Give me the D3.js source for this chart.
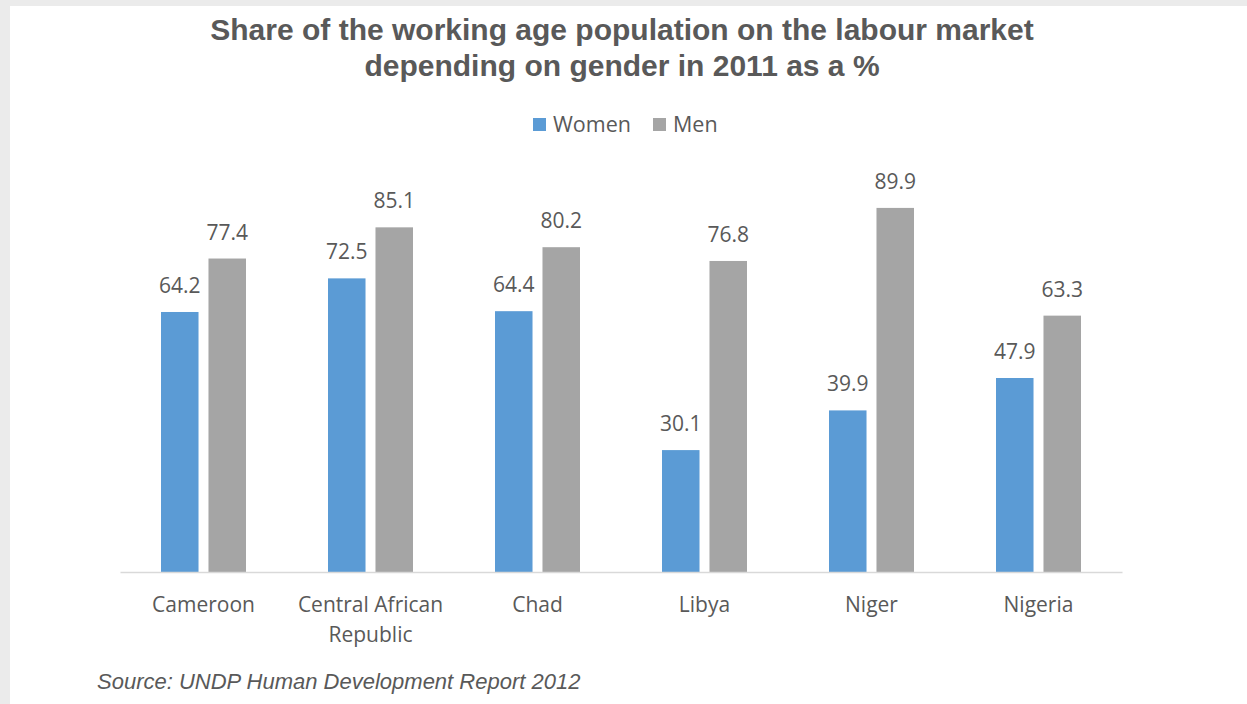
<!DOCTYPE html>
<html><head><meta charset="utf-8">
<script src="https://cdn.jsdelivr.net/npm/d3@7"></script>
<style>
html,body{margin:0;padding:0;background:#ebebeb;}
svg{display:block;}
</style></head>
<body>
<svg id="chart" width="1247" height="704"></svg>
<script>
const categories = ["Cameroon", "Central African Republic", "Chad", "Libya", "Niger", "Nigeria"];
const categoryLines = [["Cameroon"], ["Central African", "Republic"], ["Chad"], ["Libya"], ["Niger"], ["Nigeria"]];
const seriesNames = ["Women", "Men"];
const women = [64.2, 72.5, 64.4, 30.1, 39.9, 47.9];
const men = [77.4, 85.1, 80.2, 76.8, 89.9, 63.3];
const colors = ["#5b9bd5", "#a5a5a5"];
const titleLines = ["Share of the working age population on the labour market", "depending on gender in 2011 as a %"];
const sourceText = "Source: UNDP Human Development Report 2012";

const svg = d3.select("#chart");
svg.append("rect").attr("x", 10).attr("y", 6).attr("width", 1237).attr("height", 698).attr("fill", "#fff");

const txt = "#595959";
const labelFont = "'Open Sans', 'Noto Sans', sans-serif";

svg.append("g").selectAll("text").data(titleLines).join("text")
  .attr("x", 622).attr("y", (d, i) => 40 + i * 36)
  .attr("text-anchor", "middle")
  .attr("font-family", "'Liberation Sans', Arial, sans-serif")
  .attr("font-weight", "bold").attr("font-size", 30).attr("fill", txt)
  .text(d => d);

const x0 = d3.scaleBand().domain(categories).range([120, 1122]);
const x1 = d3.scaleBand().domain(seriesNames).range([41, 126]).paddingInner(0.21);
const y = d3.scaleLinear().domain([0, 100]).range([572, 167]);

const data = categories.map((c, i) => ({ cat: c, vals: [women[i], men[i]] }));

const groups = svg.append("g").selectAll("g").data(data).join("g")
  .attr("transform", d => `translate(${x0(d.cat)},0)`);

groups.selectAll("rect").data(d => d.vals.map((v, j) => ({ v, s: seriesNames[j], j })))
  .join("rect")
  .attr("x", d => x1(d.s)).attr("width", x1.bandwidth())
  .attr("y", d => y(d.v)).attr("height", d => y(0) - y(d.v))
  .attr("fill", d => colors[d.j]);

groups.selectAll("text.val").data(d => d.vals.map((v, j) => ({ v, s: seriesNames[j], j })))
  .join("text").attr("class", "val")
  .attr("x", d => x1(d.s) + x1.bandwidth() / 2)
  .attr("y", d => y(d.v) - 19)
  .attr("text-anchor", "middle")
  .attr("font-family", labelFont).attr("font-size", 21).attr("fill", txt)
  .text(d => d.v.toFixed(1));

// axis line
const xAxis = d3.axisBottom(x0).tickSize(0).tickFormat("");
const ax = svg.append("g").attr("transform", `translate(0,${y(0)})`).call(xAxis);
ax.select(".domain").attr("stroke", "#d9d9d9").attr("stroke-width", 1.5);

// category labels
svg.append("g").selectAll("text").data(categories).join("text")
  .attr("text-anchor", "middle")
  .attr("font-family", labelFont).attr("font-size", 21).attr("fill", txt)
  .attr("transform", d => `translate(${x0(d) + x0.bandwidth() / 2},612)`)
  .each(function (d, i) {
    d3.select(this).selectAll("tspan").data(categoryLines[i]).join("tspan")
      .attr("x", 0).attr("dy", (t, k) => k === 0 ? 0 : 30).text(t => t);
  });

// legend
const legendItems = [{ name: "Women", x: 533, tx: 553 }, { name: "Men", x: 653, tx: 673 }];
const lg = svg.append("g");
lg.selectAll("rect").data(legendItems).join("rect")
  .attr("x", d => d.x).attr("y", 118).attr("width", 13).attr("height", 13)
  .attr("fill", (d, i) => colors[i]);
lg.selectAll("text").data(legendItems).join("text")
  .attr("x", d => d.tx).attr("y", 132)
  .attr("font-family", labelFont).attr("font-size", 21.5).attr("fill", txt)
  .text(d => d.name);

svg.append("text").attr("x", 97).attr("y", 689)
  .attr("font-family", "'Liberation Sans', Arial, sans-serif")
  .attr("font-style", "italic").attr("font-size", 22).attr("fill", txt)
  .text(sourceText);
</script>
</body></html>
